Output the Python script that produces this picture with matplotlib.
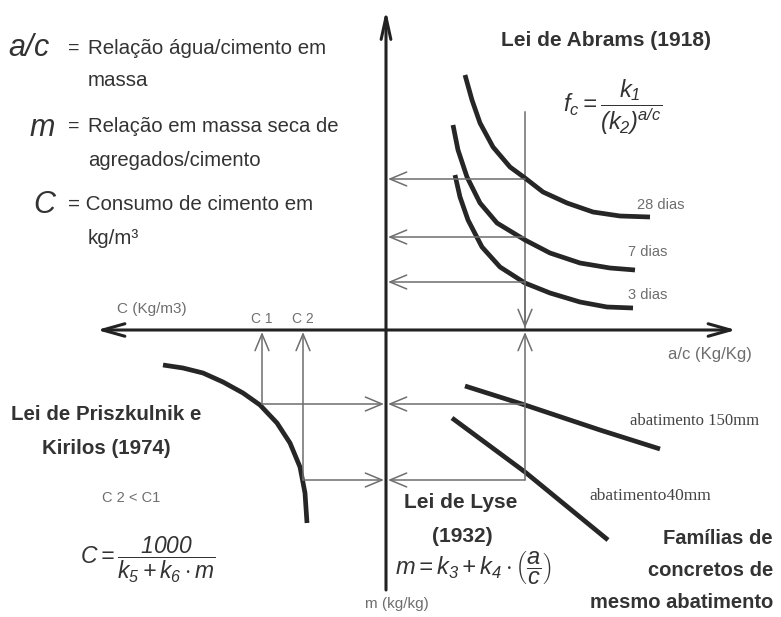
import matplotlib.pyplot as plt

plt.rcParams['font.family'] = ['Liberation Sans', 'DejaVu Sans']
plt.rcParams['mathtext.fontset'] = 'custom'
plt.rcParams['mathtext.rm'] = 'Liberation Sans:italic'
plt.rcParams['mathtext.it'] = 'Liberation Sans:italic'

# curves (pixel coords, y down)
abrams_28_x = [465, 472, 480, 493, 510, 525, 543, 567, 593, 620, 650]
abrams_28_y = [75, 100, 123, 147, 167, 178, 192, 203, 212, 216, 217]
abrams_7_x = [453, 458, 467, 480, 497, 525, 550, 580, 610, 635]
abrams_7_y = [125, 150, 177, 203, 223, 240, 253, 263, 268, 270]
abrams_3_x = [455, 460, 468, 482, 500, 525, 550, 580, 607, 633]
abrams_3_y = [175, 197, 220, 247, 267, 283, 293, 302, 307, 308]
lyse_150_x = [465, 525, 600, 660]
lyse_150_y = [386, 405, 430, 449]
lyse_40_x = [452, 525, 608]
lyse_40_y = [418, 472, 540]
prisz_x = [163, 183, 203, 223, 243, 260, 277, 290, 300, 305, 307]
prisz_y = [365, 368, 373, 382, 393, 405, 423, 443, 467, 493, 523]

# guide lines
ac_x = 525
fc_levels = [179, 237, 282]
m_levels = [404, 480]
c_levels = [262, 303]
c_labels = ['C 1', 'C 2']
slump_labels = ['abatimento 150mm', 'abatimento40mm']
age_labels = ['28 dias', '7 dias', '3 dias']

X0, Y0 = 386, 330
dark = '#333333'
grey = '#6e6e6e'

fig = plt.figure(figsize=(7.81, 6.17), dpi=100)
ax = fig.add_axes([0, 0, 1, 1])
ax.set_xlim(0, 781)
ax.set_ylim(617, 0)
ax.axis('off')


def arrow(x1, y1, x2, y2, lw=1.1, color=grey, hl=1.2, hw=0.5):
    ax.annotate('', xy=(x2, y2), xytext=(x1, y1),
                arrowprops=dict(arrowstyle=f'->,head_length={hl},head_width={hw}',
                                lw=lw, color=color, shrinkA=0, shrinkB=0))


# main axes
arrow(X0, 590, X0, 10, lw=2.2, color='#222222', hl=1.6, hw=0.35)
arrow(X0, Y0, 97, Y0, lw=2.2, color='#222222', hl=1.6, hw=0.45)
arrow(X0, Y0, 736, Y0, lw=2.2, color='#222222', hl=1.6, hw=0.45)

# guide lines, upper right
ax.plot([ac_x, ac_x], [112, Y0 - 2], color=grey, lw=1.1)
arrow(ac_x, 280, ac_x, Y0 - 2)
for y in fc_levels:
    arrow(ac_x, y, X0 + 2, y)
# lower right
arrow(ac_x, m_levels[1], ac_x, Y0 + 2)
for y in m_levels:
    arrow(ac_x, y, X0 + 2, y)
# lower left
for x, y, lab in zip(c_levels, m_levels, c_labels):
    arrow(x, y, x, Y0 + 2)
    arrow(x, y, X0 - 2, y)
    ax.text(x, Y0 - 4, lab, color=grey, fontsize=10, ha='center', va='bottom')

# curves
for cx, cy in [(abrams_28_x, abrams_28_y), (abrams_7_x, abrams_7_y),
               (abrams_3_x, abrams_3_y), (lyse_150_x, lyse_150_y),
               (lyse_40_x, lyse_40_y), (prisz_x, prisz_y)]:
    ax.plot(cx, cy, color='#262626', lw=3.4, solid_capstyle='butt',
            solid_joinstyle='round')

for x, y, lab in zip([637, 628, 628], [205, 252, 295], age_labels):
    ax.text(x, y, lab, color=grey, fontsize=10.5, va='center')

ax.text(630, 421, slump_labels[0], fontfamily='Liberation Serif', fontsize=12,
        color='#444444', va='center')
ax.text(589, 496, slump_labels[1], fontfamily='Liberation Serif', fontsize=12.5,
        color='#444444', va='center')

# axis labels
ax.text(117, 309, 'C (Kg/m3)', color=grey, fontsize=11, va='center')
ax.text(668, 355, 'a/c (Kg/Kg)', color=grey, fontsize=12, va='center')
ax.text(365, 604, 'm (kg/kg)', color=grey, fontsize=11, va='center')
ax.text(102, 498, 'C 2 < C1', color=grey, fontsize=10.5, va='center')

# definitions
ax.text(8, 48, '$a/c$', fontsize=22, color=dark, va='center')
ax.text(68, 48, '=', fontsize=14, color=dark, va='center')
ax.text(88, 48, 'Relação água/cimento em', fontsize=14.8, color=dark, va='center')
ax.text(88, 80, 'massa', fontsize=14.8, color=dark, va='center')
ax.text(29, 128, '$m$', fontsize=22, color=dark, va='center')
ax.text(68, 126, '=', fontsize=14, color=dark, va='center')
ax.text(88, 127, 'Relação em massa seca de', fontsize=14.6, color=dark, va='center')
ax.text(88, 160, 'agregados/cimento', fontsize=14.6, color=dark, va='center')
ax.text(33, 205, '$C$', fontsize=22, color=dark, va='center')
ax.text(68, 205, '= Consumo de cimento em', fontsize=14.8, color=dark, va='center')
ax.text(88, 238, 'kg/m³', fontsize=14.8, color=dark, va='center')

# laws
bold = dict(fontweight='bold', color=dark)
ax.text(606, 40, 'Lei de Abrams (1918)', fontsize=15, ha='center', va='center', **bold)
ax.text(613, 107, r'$f_c=\dfrac{k_1}{(k_2)^{a/c}}$', fontsize=17, color=dark,
        ha='center', va='center')
ax.text(106, 415, 'Lei de Priszkulnik e', fontsize=14.8, ha='center', va='center', **bold)
ax.text(106, 448, 'Kirilos (1974)', fontsize=14.8, ha='center', va='center', **bold)
ax.text(148, 560, r'$C=\dfrac{1000}{k_5+k_6\cdot m}$', fontsize=16.5, color=dark,
        ha='center', va='center')
ax.text(461, 502, 'Lei de Lyse', fontsize=15, ha='center', va='center', **bold)
ax.text(462, 537, '(1932)', fontsize=15, ha='center', va='center', **bold)
ax.text(474, 568, r'$m=k_3+k_4\cdot\left(\dfrac{a}{c}\right)$', fontsize=17,
        color=dark, ha='center', va='center')
ax.text(773, 538, 'Famílias de', fontsize=14.5, ha='right', va='center', **bold)
ax.text(773, 570, 'concretos de', fontsize=14.5, ha='right', va='center', **bold)
ax.text(773, 603, 'mesmo abatimento', fontsize=14.5, ha='right', va='center', **bold)

fig.savefig('out.png', dpi=100)
